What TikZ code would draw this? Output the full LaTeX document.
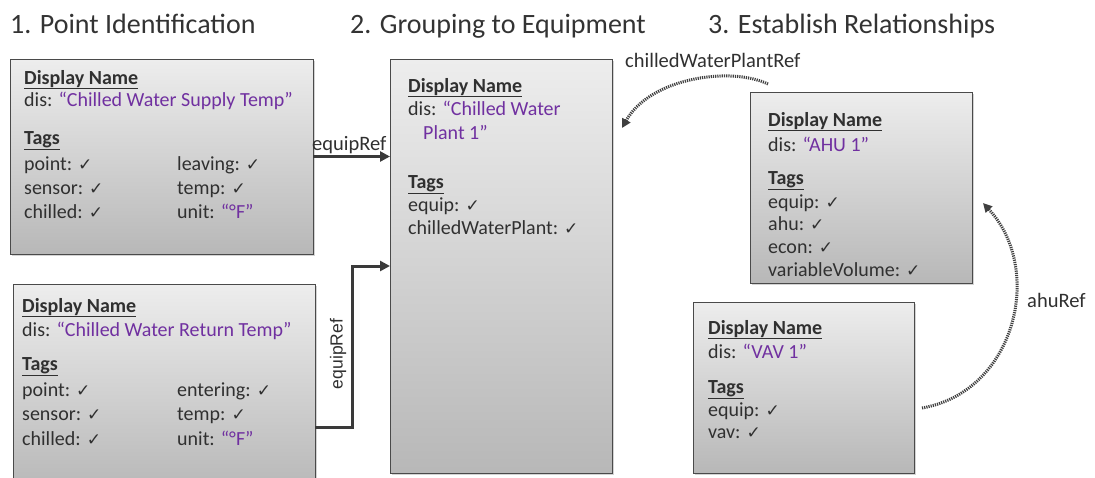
\documentclass[tikz,border=0pt]{standalone}
\usepackage{fontspec}
\setmainfont{Carlito}
\newfontfamily\symfont{DejaVu Sans}
\newfontfamily\arialfont{Liberation Sans}
\usetikzlibrary{arrows.meta,shadows,calc}
\definecolor{txt}{HTML}{303030}
\definecolor{purp}{HTML}{7030A0}
\definecolor{edge}{HTML}{4A4A4A}
\definecolor{link}{HTML}{3A3A3A}
\definecolor{dots}{HTML}{404040}
\newcommand{\ck}{{\symfont\fontsize{17}{17}\selectfont ✓}}
\newcommand{\hd}[1]{\textbf{\underline{#1}}}
\newcommand{\qv}[1]{\textcolor{purp}{“#1”}}
\begin{document}
\begin{tikzpicture}[x=1pt,y=-1pt,
  font=\fontsize{20}{24}\selectfont, text=txt,
  card/.style={draw=edge, line width=0.9pt, top color=white!93!black,
    bottom color=white!72!black, anchor=north west, inner sep=0pt, outer sep=0pt,
    drop shadow={shadow xshift=1.8pt, shadow yshift=-1.8pt, opacity=0.35}},
  lbl/.style={anchor=base west, inner sep=0pt},
  reflbl/.style={lbl, font=\fontsize{20.5}{24}\selectfont},
  title/.style={lbl, font=\fontsize{28}{32}\selectfont, text=black!80},
  ref/.style={draw=link, line width=3pt, -{Triangle[length=10pt,width=10pt]}},
  dotref/.style={draw=dots, line width=3pt, dash pattern=on 1.2pt off 1pt,
    -{Triangle[length=9pt,width=9pt]}}]
\useasboundingbox (0,0) rectangle (1095,477);

% column headings
\node[title] (h1) at (10,33) {1. Point Identification};
\node[title] (h2) at (350,33) {2. Grouping to Equipment};
\node[title] (h3) at (708,33) {3. Establish Relationships};

% cards
\node[card, minimum width=303pt, minimum height=195pt] (sup) at (10,59) {};
\node[card, minimum width=302pt, minimum height=206pt] (ret) at (13,284) {};
\node[card, minimum width=222pt, minimum height=414pt] (plant) at (390,59) {};
\node[card, minimum width=222pt, minimum height=191pt] (ahu) at (750,92) {};
\node[card, minimum width=221pt, minimum height=171pt] (vav) at (693,302) {};

% supply temp point
\node[lbl] (s1) at (24,84) {\hd{Display Name}};
\node[lbl] (s2) at (24,106) {dis: \qv{Chilled Water Supply Temp}};
\node[lbl] (s3) at (24,144) {\hd{Tags}};
\node[lbl] (s4) at (24,170) {point: \ck};
\node[lbl] (s5) at (24,194) {sensor: \ck};
\node[lbl] (s6) at (24,218) {chilled: \ck};
\node[lbl] (s7) at (177,170) {leaving: \ck};
\node[lbl] (s8) at (177,194) {temp: \ck};
\node[lbl] (s9) at (177,218) {unit: \textcolor{purp}{“°F”}};

% return temp point
\node[lbl] (r1) at (22,312) {\hd{Display Name}};
\node[lbl] (r2) at (22,336) {dis: \qv{Chilled Water Return Temp}};
\node[lbl] (r3) at (22,370) {\hd{Tags}};
\node[lbl] (r4) at (22,396) {point: \ck};
\node[lbl] (r5) at (22,420) {sensor: \ck};
\node[lbl] (r6) at (22,445) {chilled: \ck};
\node[lbl] (r7) at (177,396) {entering: \ck};
\node[lbl] (r8) at (177,420) {temp: \ck};
\node[lbl] (r9) at (177,445) {unit: \textcolor{purp}{“°F”}};

% chilled water plant
\node[lbl] (p1) at (408,92) {\hd{Display Name}};
\node[lbl] (p2) at (408,115) {dis: \textcolor{purp}{“Chilled Water}};
\node[lbl] (p3) at (423,139) {\textcolor{purp}{Plant 1”}};
\node[lbl] (p4) at (408,188) {\hd{Tags}};
\node[lbl] (p5) at (408,211) {equip: \ck};
\node[lbl] (p6) at (408,234) {chilledWaterPlant: \ck};

% AHU
\node[lbl] (a1) at (768,126) {\hd{Display Name}};
\node[lbl] (a2) at (768,151) {dis: \qv{AHU 1}};
\node[lbl] (a3) at (768,184) {\hd{Tags}};
\node[lbl] (a4) at (768,208) {equip: \ck};
\node[lbl] (a5) at (768,230) {ahu: \ck};
\node[lbl] (a6) at (768,253) {econ: \ck};
\node[lbl] (a7) at (768,276) {variableVolume: \ck};

% VAV
\node[lbl] (v1) at (708,334) {\hd{Display Name}};
\node[lbl] (v2) at (708,358) {dis: \qv{VAV 1}};
\node[lbl] (v3) at (708,393) {\hd{Tags}};
\node[lbl] (v4) at (708,416) {equip: \ck};
\node[lbl] (v5) at (708,438) {vav: \ck};

% equipment references
\draw[ref] (sup.east) -- (plant.west |- sup.east);
\node[reflbl] (e1) at (312,150) {equipRef};

\coordinate (retout) at (ret.east |- 0,427);
\coordinate (plantin) at (plant.west |- 0,266);
\draw[ref] (retout) -- ++(37,0) |- (plantin);
\node[inner sep=0pt, rotate=90, font=\arialfont\fontsize{17.5}{20}\selectfont] (e2) at (338,354) {equipRef};

% relationship references
\coordinate (cwpStart) at (768,84);
\coordinate (cwpEnd) at (622,128);
\draw[dotref] (cwpStart) .. controls (730,66) and (650,78) .. (cwpEnd);
\node[reflbl] (c1) at (625,67) {chilledWaterPlantRef};

\coordinate (ahuStart) at (922,408);
\coordinate (ahuEnd) at (983,203);
\draw[dotref] (ahuStart) .. controls (1015,392) and (1045,270) .. (ahuEnd);
\node[reflbl] (c2) at (1027,307) {ahuRef};
\end{tikzpicture}
\end{document}
